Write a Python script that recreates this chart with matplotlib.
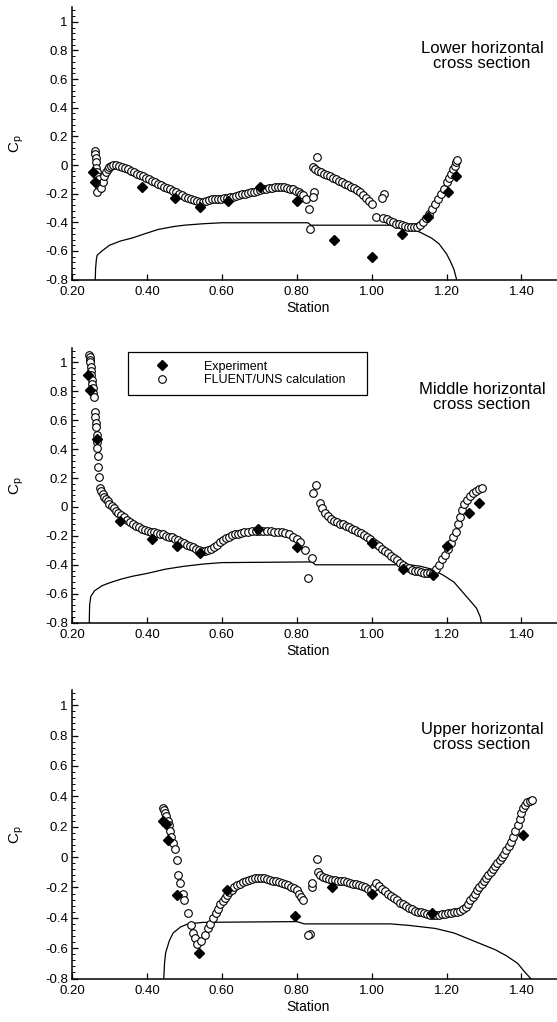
import numpy as np
import matplotlib
matplotlib.use("Agg")
import matplotlib.pyplot as plt
from matplotlib.ticker import AutoMinorLocator, FuncFormatter

plt.rcParams['font.family'] = ['Liberation Sans', 'DejaVu Sans']
plt.rcParams['mathtext.default'] = 'regular'
plt.rcParams['axes.unicode_minus'] = False

#---------------------------------------------------------------------------
# lower horizontal cross section
lower_cfd_x = [0.262, 0.262, 0.263, 0.264, 0.265, 0.266, 0.268, 0.272, 0.275, 0.272, 0.268, 0.278, 0.282,
               0.285, 0.290, 0.295, 0.300, 0.305, 0.310, 0.318, 0.326, 0.334, 0.342, 0.350, 0.358, 0.366,
               0.374, 0.382, 0.390, 0.398, 0.406, 0.414, 0.422, 0.430, 0.438, 0.446, 0.454, 0.462, 0.470,
               0.478, 0.486, 0.494, 0.502, 0.510, 0.518, 0.526, 0.534, 0.542, 0.550, 0.558, 0.566, 0.574,
               0.582, 0.590, 0.598, 0.606, 0.614, 0.622, 0.630, 0.638, 0.646, 0.654, 0.662, 0.670, 0.678,
               0.686, 0.694, 0.702, 0.710, 0.718, 0.726, 0.734, 0.742, 0.750, 0.758, 0.766, 0.774, 0.782,
               0.790, 0.798, 0.806, 0.812, 0.818, 0.824, 0.846, 0.843, 0.832, 0.835,
               0.853, 0.843, 0.850, 0.858, 0.866, 0.874, 0.882, 0.890, 0.898, 0.906, 0.914, 0.922, 0.930,
               0.938, 0.946, 0.954, 0.962, 0.970, 0.978, 0.986, 0.994, 1.002, 1.032, 1.027, 1.013,
               1.030, 1.040, 1.048, 1.056, 1.064, 1.072, 1.080, 1.088, 1.096, 1.104, 1.112, 1.120, 1.128,
               1.136, 1.144, 1.152, 1.160, 1.168, 1.176, 1.184, 1.192, 1.200, 1.206, 1.212, 1.218, 1.222,
               1.226, 1.228]
lower_cfd_cp = [0.10, 0.08, 0.05, 0.02, -0.02, -0.05, -0.08, -0.10, -0.13, -0.17, -0.19, -0.16, -0.12,
                -0.08, -0.05, -0.03, -0.015, -0.005, 0.0, 0.0, -0.005, -0.012, -0.02, -0.03, -0.04, -0.05,
                -0.06, -0.07, -0.08, -0.09, -0.10, -0.11, -0.12, -0.13, -0.14, -0.15, -0.16, -0.17, -0.18,
                -0.19, -0.20, -0.21, -0.22, -0.23, -0.24, -0.245, -0.25, -0.255, -0.255, -0.25, -0.245, -0.24,
                -0.24, -0.235, -0.235, -0.23, -0.23, -0.225, -0.22, -0.215, -0.21, -0.205, -0.20, -0.195, -0.19,
                -0.185, -0.18, -0.175, -0.17, -0.165, -0.16, -0.16, -0.155, -0.155, -0.155, -0.155, -0.16, -0.165,
                -0.17, -0.18, -0.19, -0.20, -0.21, -0.24, -0.19, -0.22, -0.31, -0.45,
                0.056, -0.014, -0.03, -0.04, -0.05, -0.06, -0.07, -0.08, -0.09, -0.10, -0.11, -0.12, -0.13,
                -0.14, -0.15, -0.16, -0.175, -0.19, -0.21, -0.23, -0.25, -0.27, -0.20, -0.23, -0.36,
                -0.37, -0.38, -0.39, -0.40, -0.41, -0.415, -0.42, -0.425, -0.43, -0.435, -0.435, -0.43, -0.42,
                -0.395, -0.37, -0.34, -0.31, -0.27, -0.24, -0.20, -0.165, -0.12, -0.09, -0.06, -0.03, -0.005,
                0.02, 0.035]
lower_exp_x = [0.257, 0.261, 0.387, 0.475, 0.541, 0.617, 0.701, 0.800, 0.899, 1.000, 1.080, 1.150, 1.203, 1.224]
lower_exp_cp = [-0.05, -0.12, -0.15, -0.23, -0.29, -0.25, -0.15, -0.25, -0.52, -0.64, -0.48, -0.36, -0.19, -0.08]
lower_body_x = [0.262, 0.263, 0.265, 0.267, 0.28, 0.30, 0.33, 0.36, 0.40, 0.43, 0.47, 0.50, 0.55, 0.60,
                0.83, 0.838, 1.05, 1.10, 1.13, 1.16, 1.18, 1.20, 1.21, 1.22, 1.227]
lower_body_cp = [-0.80, -0.72, -0.66, -0.63, -0.60, -0.56, -0.53, -0.51, -0.475, -0.45, -0.43, -0.42, -0.41,
                 -0.403, -0.403, -0.42, -0.42, -0.44, -0.47, -0.51, -0.55, -0.62, -0.67, -0.73, -0.80]

#---------------------------------------------------------------------------
# middle horizontal cross section
middle_cfd_x = [0.245, 0.247, 0.248, 0.249, 0.250, 0.251, 0.252, 0.253, 0.254, 0.256, 0.257, 0.258, 0.262,
                0.262, 0.264, 0.264, 0.266, 0.267, 0.267, 0.269, 0.269, 0.272, 0.275, 0.278, 0.282, 0.286,
                0.290, 0.295, 0.300, 0.306, 0.312, 0.318, 0.324, 0.330, 0.338, 0.346, 0.354, 0.362, 0.370,
                0.378, 0.386, 0.394, 0.402, 0.410, 0.418, 0.426, 0.434, 0.442, 0.450, 0.458, 0.466, 0.474,
                0.482, 0.490, 0.498, 0.506, 0.514, 0.522, 0.530, 0.538, 0.546, 0.554, 0.562, 0.570, 0.578,
                0.586, 0.594, 0.602, 0.610, 0.618, 0.626, 0.634, 0.642, 0.650, 0.660, 0.670, 0.680, 0.690,
                0.700, 0.710, 0.720, 0.730, 0.740, 0.750, 0.760, 0.770, 0.780, 0.790, 0.800, 0.810, 0.821,
                0.840, 0.829,
                0.851, 0.843, 0.861, 0.868, 0.876, 0.884, 0.892, 0.900, 0.908, 0.916, 0.924, 0.932, 0.940,
                0.948, 0.956, 0.964, 0.972, 0.980, 0.988, 0.996, 1.004, 1.012, 1.020, 1.028, 1.036, 1.044,
                1.052, 1.060, 1.068, 1.076, 1.084, 1.092, 1.100, 1.108, 1.116, 1.124, 1.132, 1.140, 1.148,
                1.156, 1.164, 1.172, 1.180, 1.188, 1.196, 1.204, 1.212, 1.218, 1.224, 1.230, 1.236, 1.242,
                1.248, 1.254, 1.262, 1.270, 1.278, 1.286, 1.294]
middle_cfd_cp = [1.05, 1.04, 1.02, 1.00, 0.97, 0.94, 0.91, 0.88, 0.85, 0.82, 0.79, 0.76, 0.66,
                 0.62, 0.58, 0.55, 0.50, 0.45, 0.41, 0.35, 0.28, 0.21, 0.13, 0.11, 0.09, 0.07,
                 0.055, 0.04, 0.02, 0.005, -0.01, -0.025, -0.04, -0.055, -0.07, -0.09, -0.105, -0.12, -0.13,
                 -0.14, -0.15, -0.16, -0.165, -0.17, -0.175, -0.18, -0.185, -0.19, -0.20, -0.205, -0.21, -0.22,
                 -0.23, -0.24, -0.25, -0.26, -0.27, -0.28, -0.29, -0.30, -0.305, -0.305, -0.30, -0.29, -0.28,
                 -0.265, -0.245, -0.23, -0.215, -0.205, -0.195, -0.19, -0.185, -0.18, -0.175, -0.17, -0.165, -0.165,
                 -0.165, -0.165, -0.165, -0.165, -0.17, -0.17, -0.175, -0.18, -0.19, -0.205, -0.22, -0.24, -0.30,
                 -0.35, -0.49,
                 0.15, 0.10, 0.03, -0.01, -0.04, -0.06, -0.08, -0.095, -0.105, -0.115, -0.12, -0.13, -0.14,
                 -0.15, -0.16, -0.17, -0.18, -0.195, -0.21, -0.225, -0.24, -0.255, -0.27, -0.29, -0.305, -0.32,
                 -0.34, -0.355, -0.37, -0.385, -0.40, -0.415, -0.425, -0.435, -0.44, -0.445, -0.45, -0.455, -0.46,
                 -0.46, -0.455, -0.43, -0.40, -0.36, -0.33, -0.29, -0.25, -0.21, -0.17, -0.12, -0.07, -0.02,
                 0.02, 0.05, 0.075, 0.095, 0.11, 0.125, 0.13]
middle_exp_x = [0.243, 0.247, 0.266, 0.328, 0.413, 0.480, 0.541, 0.697, 0.800, 1.000, 1.083, 1.163, 1.200, 1.261, 1.288]
middle_exp_cp = [0.91, 0.81, 0.47, -0.10, -0.22, -0.27, -0.32, -0.15, -0.28, -0.25, -0.43, -0.47, -0.27, -0.04, 0.03]
middle_body_x = [0.246, 0.247, 0.25, 0.26, 0.28, 0.30, 0.33, 0.36, 0.40, 0.45, 0.50, 0.55, 0.60,
                 0.84, 0.85, 1.10, 1.13, 1.16, 1.19, 1.22, 1.24, 1.26, 1.28, 1.29, 1.293]
middle_body_cp = [-0.80, -0.68, -0.62, -0.58, -0.545, -0.525, -0.50, -0.48, -0.46, -0.43, -0.41, -0.395, -0.385,
                  -0.38, -0.40, -0.40, -0.41, -0.43, -0.47, -0.52, -0.58, -0.64, -0.70, -0.76, -0.80]

#---------------------------------------------------------------------------
# upper horizontal cross section
upper_cfd_x = [0.443, 0.446, 0.449, 0.452, 0.455, 0.458, 0.461, 0.465, 0.470, 0.475, 0.480, 0.483, 0.488,
               0.496, 0.499, 0.509, 0.517, 0.522, 0.528, 0.535, 0.545, 0.555, 0.562, 0.568, 0.576, 0.584,
               0.590, 0.596, 0.602, 0.608, 0.614, 0.620, 0.626, 0.632, 0.640, 0.648, 0.656, 0.664, 0.672,
               0.680, 0.688, 0.696, 0.704, 0.712, 0.720, 0.728, 0.736, 0.744, 0.752, 0.760, 0.768, 0.776,
               0.784, 0.792, 0.800, 0.806, 0.812, 0.817, 0.840, 0.840, 0.853, 0.835, 0.830,
               0.856, 0.862, 0.870, 0.878, 0.886, 0.894, 0.902, 0.910, 0.918, 0.926, 0.934, 0.942, 0.950,
               0.958, 0.966, 0.974, 0.982, 0.990, 0.998, 1.006, 1.013, 1.020, 1.028, 1.036, 1.044, 1.052,
               1.060, 1.068, 1.076, 1.084, 1.092, 1.100, 1.108, 1.116, 1.124, 1.132, 1.140, 1.148, 1.156,
               1.164, 1.172, 1.180, 1.188, 1.196, 1.204, 1.212, 1.220, 1.228, 1.236, 1.244, 1.252, 1.258,
               1.264, 1.270, 1.276, 1.282, 1.288, 1.294, 1.300, 1.306, 1.312, 1.318, 1.324, 1.330, 1.336,
               1.342, 1.348, 1.354, 1.360, 1.366, 1.372, 1.378, 1.384, 1.390, 1.396, 1.400, 1.405, 1.410,
               1.416, 1.422, 1.427]
upper_cfd_cp = [0.32, 0.31, 0.29, 0.27, 0.24, 0.21, 0.17, 0.13, 0.09, 0.05, -0.02, -0.12, -0.17,
                -0.24, -0.28, -0.37, -0.45, -0.50, -0.53, -0.57, -0.55, -0.51, -0.47, -0.44, -0.40, -0.37,
                -0.34, -0.31, -0.29, -0.27, -0.25, -0.23, -0.215, -0.20, -0.185, -0.175, -0.165, -0.155, -0.15,
                -0.145, -0.14, -0.14, -0.14, -0.14, -0.145, -0.15, -0.155, -0.16, -0.165, -0.17, -0.175, -0.185,
                -0.195, -0.205, -0.22, -0.24, -0.26, -0.28, -0.20, -0.17, -0.01, -0.505, -0.51,
                -0.10, -0.12, -0.13, -0.14, -0.145, -0.15, -0.15, -0.155, -0.16, -0.16, -0.165, -0.17, -0.175,
                -0.18, -0.185, -0.19, -0.20, -0.21, -0.215, -0.20, -0.17, -0.19, -0.21, -0.225, -0.24, -0.255,
                -0.27, -0.285, -0.30, -0.31, -0.325, -0.335, -0.345, -0.355, -0.36, -0.365, -0.37, -0.375, -0.38,
                -0.38, -0.38, -0.38, -0.375, -0.375, -0.37, -0.37, -0.365, -0.36, -0.355, -0.345, -0.33, -0.31,
                -0.285, -0.26, -0.24, -0.22, -0.20, -0.18, -0.16, -0.14, -0.12, -0.10, -0.08, -0.06, -0.04,
                -0.02, 0.0, 0.02, 0.045, 0.07, 0.10, 0.13, 0.17, 0.21, 0.25, 0.29, 0.32, 0.345,
                0.36, 0.37, 0.375]
upper_exp_x = [0.443, 0.450, 0.456, 0.480, 0.539, 0.615, 0.795, 0.893, 1.000, 1.160, 1.403]
upper_exp_cp = [0.24, 0.22, 0.11, -0.25, -0.63, -0.22, -0.39, -0.20, -0.24, -0.37, 0.145]
upper_body_x = [0.445, 0.447, 0.45, 0.46, 0.47, 0.49, 0.51, 0.55, 0.80, 0.82, 1.05, 1.10, 1.17, 1.22,
                1.26, 1.30, 1.33, 1.36, 1.39, 1.41, 1.425]
upper_body_cp = [-0.80, -0.70, -0.63, -0.55, -0.50, -0.46, -0.44, -0.43, -0.425, -0.44, -0.44, -0.45, -0.47,
                 -0.50, -0.54, -0.58, -0.61, -0.65, -0.70, -0.76, -0.80]

panel_titles = ['Lower horizontal\ncross section', 'Middle horizontal\ncross section',
                'Upper horizontal\ncross section']
legend_labels = ['Experiment', 'FLUENT/UNS calculation']
x_ticks = [0.20, 0.40, 0.60, 0.80, 1.00, 1.20, 1.40]
y_ticks = [-0.8, -0.6, -0.4, -0.2, 0, 0.2, 0.4, 0.6, 0.8, 1]

#---------------------------------------------------------------------------
fig = plt.figure(figsize=(5.57, 10.22), dpi=100)
# [left, bottom, width, height] per panel
rects = [[0.1293, 0.7264, 0.8707, 0.2663],
         [0.1293, 0.3908, 0.8707, 0.2687],
         [0.1293, 0.0425, 0.8707, 0.2824]]
datasets = [(lower_cfd_x, lower_cfd_cp, lower_exp_x, lower_exp_cp, lower_body_x, lower_body_cp),
            (middle_cfd_x, middle_cfd_cp, middle_exp_x, middle_exp_cp, middle_body_x, middle_body_cp),
            (upper_cfd_x, upper_cfd_cp, upper_exp_x, upper_exp_cp, upper_body_x, upper_body_cp)]
title_y = [0.76, 0.76, 0.79]

def cp_fmt(v, pos):
    v = round(v, 1)
    if v == 0:
        return '0'
    return f'{v:g}'

for i, (rect, data) in enumerate(zip(rects, datasets)):
    cx, ccp, ex, ecp, bx, bcp = data
    ax = fig.add_axes(rect)
    ax.plot(bx, bcp, color='black', lw=0.9, zorder=1)
    ax.plot(cx, ccp, linestyle='none', marker='o', markersize=5.5, markerfacecolor='white',
            markeredgecolor='black', markeredgewidth=0.8, zorder=2, label=legend_labels[1])
    ax.plot(ex, ecp, linestyle='none', marker='D', markersize=4.6, color='black', zorder=3,
            label=legend_labels[0])

    ax.set_xlim(0.2, 1.495)
    ax.set_ylim(-0.8, 1.1)
    for s in ['top', 'right']:
        ax.spines[s].set_visible(False)
    for s in ['left', 'bottom']:
        ax.spines[s].set_linewidth(1.1)
    ax.set_xticks(x_ticks)
    ax.set_xticklabels([f'{t:.2f}' for t in x_ticks])
    ax.set_yticks(y_ticks)
    ax.yaxis.set_major_formatter(FuncFormatter(cp_fmt))
    ax.yaxis.set_minor_locator(AutoMinorLocator(5))
    ax.tick_params(axis='both', which='major', direction='in', length=4, width=0.9, labelsize=9.5, pad=3)
    ax.tick_params(axis='y', which='minor', direction='in', length=2, width=0.7)
    ax.tick_params(axis='x', which='major', pad=4.5)

    ax.set_ylabel('C$_p$', fontsize=11)
    ax.yaxis.set_label_coords(-0.095, 0.5)
    ax.set_xlabel('Station', fontsize=10)
    h_px = rect[3] * 1022
    ax.xaxis.set_label_coords(0.487, -21.0 / h_px)

    ax.text(1.295, title_y[i], panel_titles[i], ha='center', va='center', fontsize=12,
            multialignment='center', linespacing=1.0)

    if i == 1:
        h, l = ax.get_legend_handles_labels()
        leg = ax.legend(h[::-1], l[::-1], loc='upper left', bbox_to_anchor=(0.115, 0.985, 0.493, 0.0),
                        mode='expand', borderaxespad=0, fontsize=9, fancybox=False, framealpha=1,
                        edgecolor='black', handlelength=4.0, handletextpad=1.4, borderpad=0.7,
                        labelspacing=0.12)
        leg.get_frame().set_linewidth(0.9)

fig.savefig('out.png', dpi=100)
